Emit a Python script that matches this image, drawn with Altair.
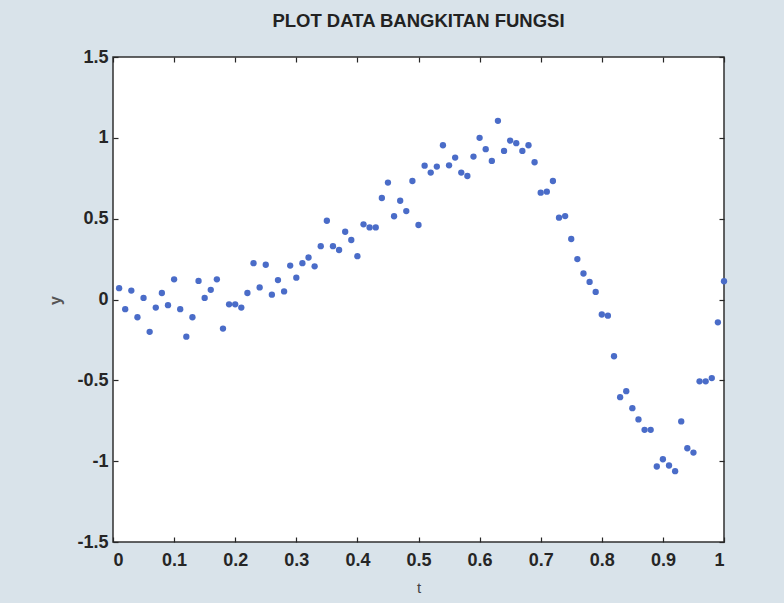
import altair as alt
import pandas as pd

# Sample grid t = 0.01 ... 1.00
t = [i / 100 for i in range(1, 101)]

# Generated noisy function samples
y = [
    0.07, -0.06, 0.055, -0.11, 0.01, -0.20, -0.05, 0.04, -0.035, 0.125,
    -0.06, -0.23, -0.11, 0.115, 0.01, 0.06, 0.125, -0.18, -0.03, -0.03,
    -0.05, 0.04, 0.225, 0.075, 0.215, 0.03, 0.12, 0.05, 0.21, 0.135,
    0.225, 0.26, 0.205, 0.33, 0.487, 0.33, 0.306, 0.419, 0.368, 0.268,
    0.465, 0.446, 0.446, 0.628, 0.723, 0.515, 0.611, 0.547, 0.733, 0.461,
    0.828, 0.785, 0.822, 0.954, 0.83, 0.878, 0.785, 0.764, 0.884, 1.0,
    0.93, 0.857, 1.105, 0.919, 0.983, 0.967, 0.919, 0.954, 0.849, 0.661,
    0.667, 0.733, 0.506, 0.516, 0.374, 0.25, 0.161, 0.109, 0.047, -0.093,
    -0.10, -0.351, -0.604, -0.567, -0.672, -0.742, -0.806, -0.806, -1.033, -0.988,
    -1.027, -1.062, -0.754, -0.92, -0.947, -0.506, -0.506, -0.486, -0.141, 0.113,
]

x_ticks = [0, 0.1, 0.2, 0.3, 0.4, 0.5, 0.6, 0.7, 0.8, 0.9, 1]
y_ticks = [-1.5, -1, -0.5, 0, 0.5, 1, 1.5]

df = pd.DataFrame({"t": t, "y": y})

FONT = "Liberation Sans, Arial, sans-serif"
INK = "#262626"

x_scale = alt.Scale(domain=[0, 1], nice=False, zero=False)
y_scale = alt.Scale(domain=[-1.5, 1.5], nice=False, zero=False)

# Plain number labels with an ASCII hyphen for negatives: "0", "0.1", "-1.5"
LABEL_EXPR = "'' + datum.value"

# Labelled axes (bottom / left)
x_main = alt.Axis(
    orient="bottom", values=x_ticks, labelExpr=LABEL_EXPR, ticks=False,
    domain=False, grid=False, labelPadding=9, labelFont=FONT, labelFontSize=18,
    labelFontWeight="bold", labelColor=INK, title="t", titleFont=FONT,
    titleFontSize=15, titleFontWeight="normal", titleColor="#444",
    titleY=45, titleBaseline="middle",
)
y_main = alt.Axis(
    orient="left", values=y_ticks, labelExpr=LABEL_EXPR, ticks=False,
    domain=False, grid=False, labelPadding=5, labelFont=FONT, labelFontSize=18,
    labelFontWeight="bold", labelColor=INK, title="y", titleFont=FONT,
    titleFontSize=16, titleFontWeight="bold", titleColor="#555",
    titleX=-58, titleY=243, titleAngle=270, titleBaseline="middle",
)


def inner_axis(orient, values):
    # Tick marks pointing into the plot box, no labels
    return alt.Axis(
        orient=orient, values=values, labels=False, domain=False, grid=False,
        ticks=True, tickSize=5, tickColor=INK, tickWidth=1.2, offset=-5,
        title=None,
    )


points = alt.Chart(df).mark_circle(size=40, color="#4a6cc8", opacity=1).encode(
    x=alt.X("t:Q", scale=x_scale, axis=x_main),
    y=alt.Y("y:Q", scale=y_scale, axis=y_main),
)

ticks_bl = alt.Chart(df).mark_circle(opacity=0).encode(
    x=alt.X("t:Q", scale=x_scale, axis=inner_axis("bottom", x_ticks)),
    y=alt.Y("y:Q", scale=y_scale, axis=inner_axis("left", y_ticks)),
)

ticks_tr = alt.Chart(df).mark_circle(opacity=0).encode(
    x=alt.X("t:Q", scale=x_scale, axis=inner_axis("top", x_ticks)),
    y=alt.Y("y:Q", scale=y_scale, axis=inner_axis("right", y_ticks)),
)

chart = (
    alt.layer(ticks_bl, ticks_tr, points)
    .resolve_axis(x="independent", y="independent")
    .properties(
        width=611,
        height=485,
        title=alt.TitleParams(
            "PLOT DATA BANGKITAN FUNGSI", font=FONT, fontSize=18.5,
            fontWeight="bold", color="#222", anchor="middle", offset=18,
        ),
        autosize=alt.AutoSizeParams(type="none"),
        padding={"left": 113, "top": 57, "right": 60, "bottom": 61},
        background="#d9e3ea",
    )
    .configure_view(fill="white", stroke="#303030", strokeWidth=1.5)
)

chart.save("out.html", embed_options={"renderer": "svg", "actions": False})
